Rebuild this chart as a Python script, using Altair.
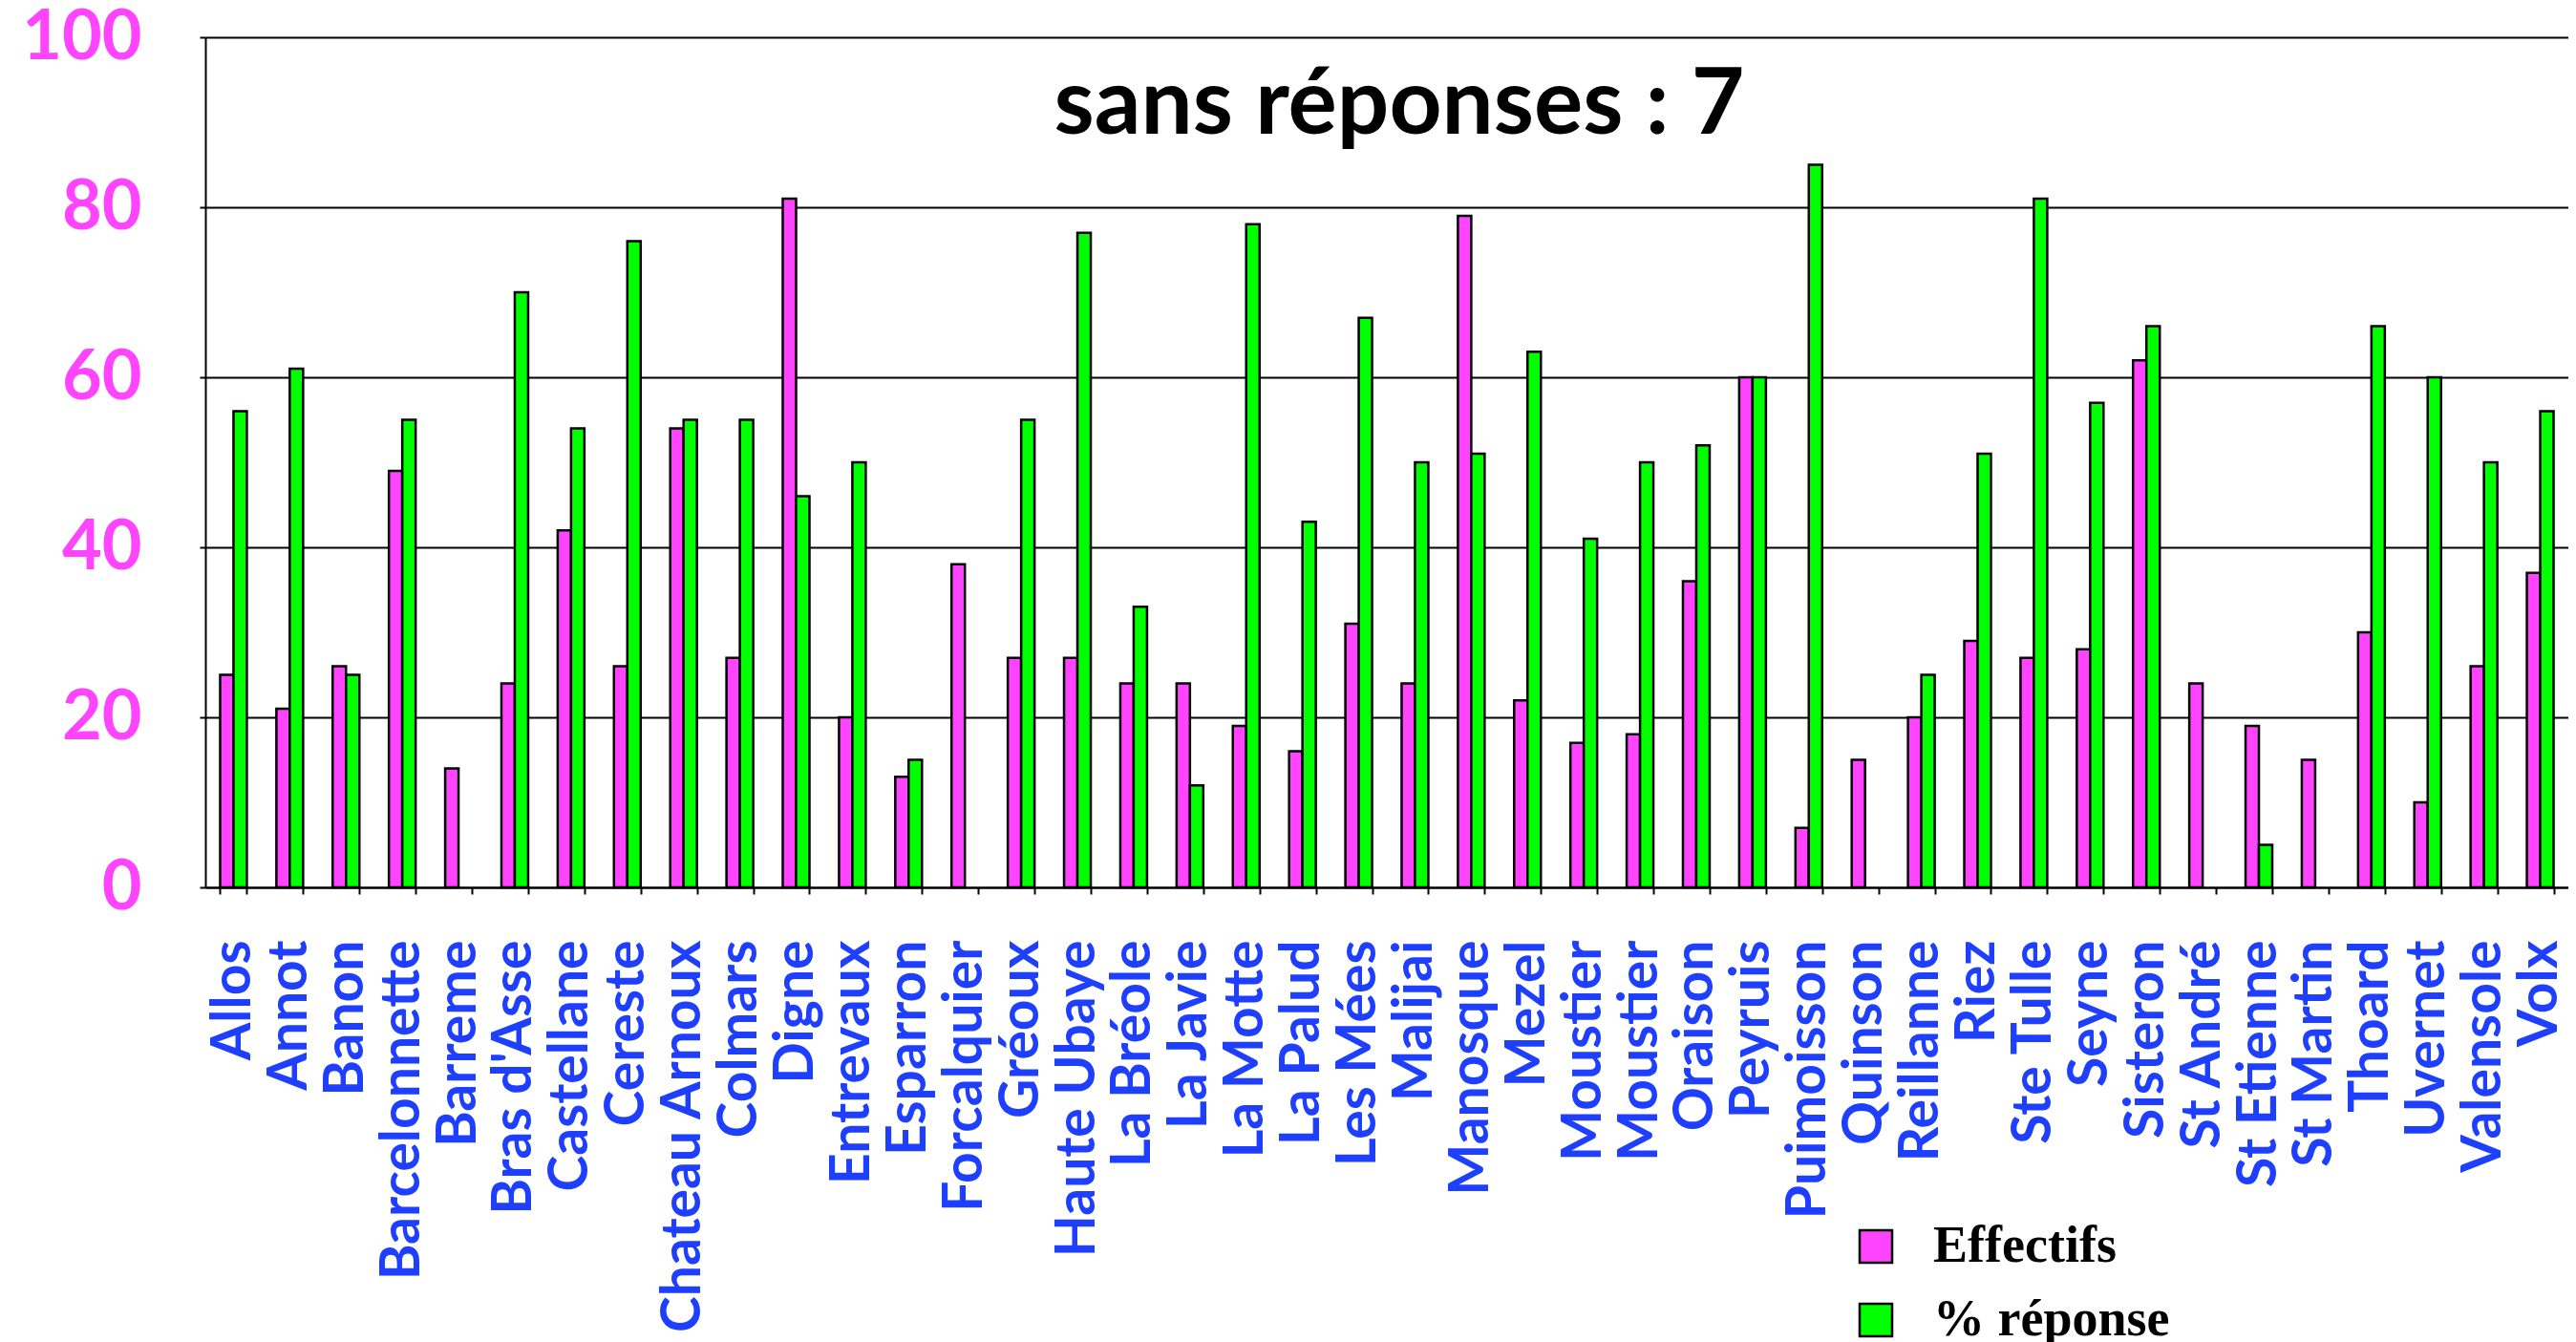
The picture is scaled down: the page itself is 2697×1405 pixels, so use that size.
import altair as alt
import pandas as pd

communes = ["Allos", "Annot", "Banon", "Barcelonnette", "Barreme", "Bras d'Asse",
            "Castellane", "Cereste", "Chateau Arnoux", "Colmars", "Digne", "Entrevaux",
            "Esparron", "Forcalquier", "Gréoux", "Haute Ubaye", "La Bréole", "La Javie",
            "La Motte", "La Palud", "Les Mées", "Malijai", "Manosque", "Mezel",
            "Moustier", "Moustier", "Oraison", "Peyruis", "Puimoisson", "Quinson",
            "Reillanne", "Riez", "Ste Tulle", "Seyne", "Sisteron", "St André",
            "St Etienne", "St Martin", "Thoard", "Uvernet", "Valensole", "Volx"]

effectifs = [25, 21, 26, 49, 14, 24, 42, 26, 54, 27, 81, 20, 13, 38, 27, 27, 24, 24,
             19, 16, 31, 24, 79, 22, 17, 18, 36, 60, 7, 15, 20, 29, 27, 28, 62, 24,
             19, 15, 30, 10, 26, 37]

reponse = [56, 61, 25, 55, None, 70, 54, 76, 55, 55, 46, 50, 15, None, 55, 77, 33, 12,
           78, 43, 67, 50, 51, 63, 41, 50, 52, 60, 85, None, 25, 51, 81, 57, 66, None,
           5, None, 66, 60, 50, 56]

series = ["Effectifs", "% réponse"]
colors = ["#ff44ff", "#00ff00"]
y_ticks = [0, 20, 40, 60, 80, 100]
note = "sans réponses : 7"

# unique keys for duplicated names (label shows text before "|")
keys = []
seen = {}
for c in communes:
    seen[c] = seen.get(c, 0) + 1
    keys.append(c if seen[c] == 1 else f"{c}|{seen[c]}")

rows = []
for k, e, r in zip(keys, effectifs, reponse):
    rows.append({"commune": k, "serie": series[0], "valeur": e})
    if r is not None:
        rows.append({"commune": k, "serie": series[1], "valeur": r})
df = pd.DataFrame(rows)

W, H = 2474, 890

x_enc = alt.X("commune:N", sort=keys,
              scale=alt.Scale(paddingInner=0.525, paddingOuter=0.2625),
              axis=alt.Axis(title=None, labelAngle=-90, labelFont="Lato",
                            labelFontWeight="bold", labelFontSize=57,
                            labelColor="#1f3fff", labelPadding=48, labelLimit=1000,
                            labelOverlap=False, tickBand="extent", tickSize=7,
                            tickColor="black", tickWidth=2, domainColor="black",
                            domainWidth=2,
                            labelExpr="split(datum.label, '|')[0]"))

bars = alt.Chart(df).mark_bar(stroke="black", strokeWidth=2.5).encode(
    x=x_enc,
    xOffset=alt.XOffset("serie:N", sort=series,
                        scale=alt.Scale(domain=series, paddingInner=0, paddingOuter=0)),
    y=alt.Y("valeur:Q", scale=alt.Scale(domain=[0, 100], nice=False),
            axis=alt.Axis(title=None, values=y_ticks, labelFont="Lato",
                          labelFontWeight="bold", labelFontSize=72,
                          labelColor="#ff44ff", labelPadding=61, tickSize=6,
                          tickColor="black", tickWidth=2, domainColor="black",
                          domainWidth=2, grid=True, gridColor="black", gridWidth=2,
                          gridOpacity=1)),
    color=alt.Color("serie:N", sort=series,
                    scale=alt.Scale(domain=series, range=colors),
                    legend=alt.Legend(title=None, orient="none", legendX=1722,
                                      legendY=1239, symbolType="square",
                                      symbolSize=1156, symbolStrokeColor="black",
                                      symbolStrokeWidth=2.5, symbolOpacity=1,
                                      labelFont="Liberation Serif",
                                      labelFontWeight="bold", labelFontSize=54,
                                      labelColor="black", labelOffset=33,
                                      rowPadding=23, padding=0, labelLimit=500)),
)

txt = alt.Chart(pd.DataFrame({"t": [note]})).mark_text(
    font="Lato", fontWeight="bold", fontSize=96, color="black",
    align="center", baseline="alphabetic"
).encode(x=alt.value(1250), y=alt.value(101), text="t:N")

chart = alt.layer(bars, txt).properties(
    width=W, height=H,
    autosize=alt.AutoSizeParams(type="none"),
    padding={"left": 207, "top": 31, "right": 0, "bottom": 500},
).configure_view(stroke="black", strokeWidth=2).configure(background="white")

chart.save("out.html", embed_options={"renderer": "svg", "actions": False})
